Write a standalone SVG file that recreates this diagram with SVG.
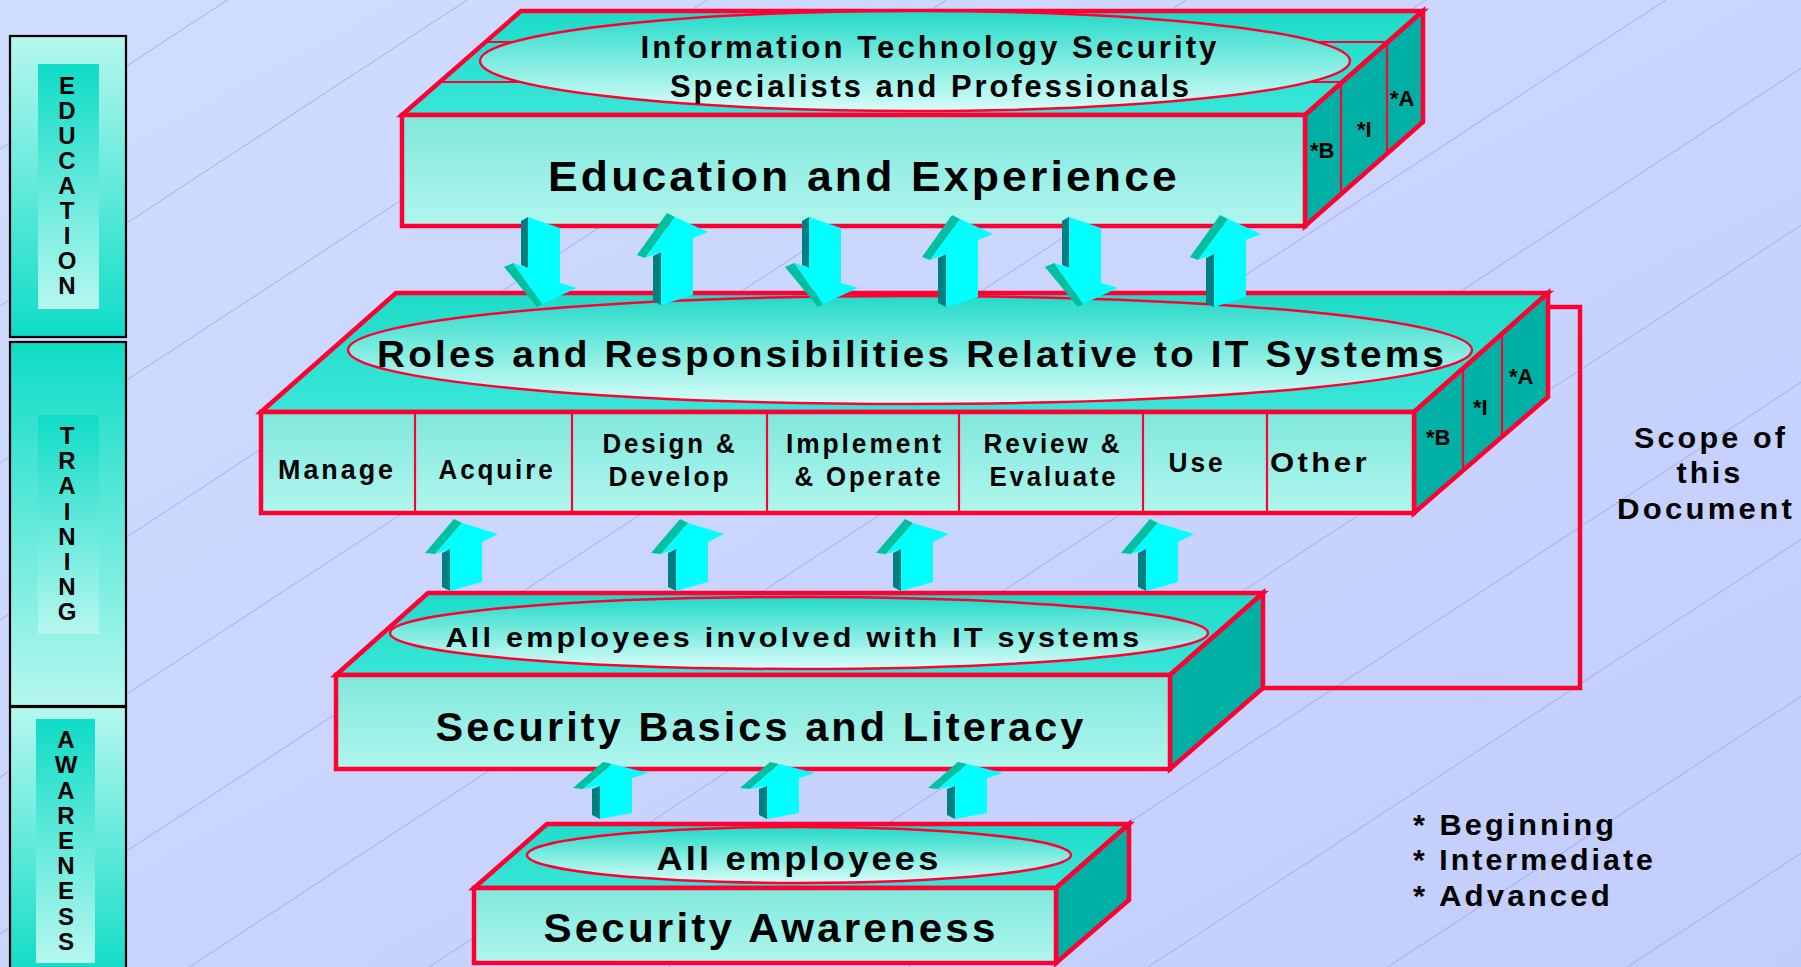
<svg xmlns="http://www.w3.org/2000/svg" xmlns:xlink="http://www.w3.org/1999/xlink" width="1801" height="967" viewBox="0 0 1801 967">
<style>
.t{font-family:"Liberation Sans",Arial,Helvetica,sans-serif;font-weight:bold;fill:#000;}
.s{letter-spacing:3px;}
.bgl{stroke:#9ea8f2;stroke-width:0.9;fill:none;}
.edge{stroke:#ff0033;stroke-width:4.5;stroke-linejoin:miter;stroke-miterlimit:3;}
.thin{stroke:#ff0033;stroke-width:2.2;fill:none;}
.ell{fill:url(#gEll);stroke:#ff0033;stroke-width:2.5;}
.top{fill:url(#gTop);}
.front{fill:url(#gFront);}
.side{fill:#00b0a4;}
.sbox{stroke:#000;stroke-width:2.2;}
.cy{fill:#00ffff;}
.dk{fill:#007f80;}
.gr{fill:#00c0a0;}
</style>
<defs>
<linearGradient id="gBg" x1="0" y1="0" x2="1" y2="1"><stop offset="0" stop-color="#d0ddff"/><stop offset="1" stop-color="#c2cdfc"/></linearGradient>
<linearGradient id="gLT" x1="0" y1="0" x2="0" y2="1"><stop offset="0" stop-color="#b6f7ef"/><stop offset="1" stop-color="#0edcc6"/></linearGradient>
<linearGradient id="gTL" x1="0" y1="0" x2="0" y2="1"><stop offset="0" stop-color="#0edcc6"/><stop offset="1" stop-color="#b6f7ef"/></linearGradient>
<linearGradient id="gTop" x1="0" y1="0" x2="0" y2="1"><stop offset="0" stop-color="#1edcc8"/><stop offset="1" stop-color="#38e6d8"/></linearGradient>
<linearGradient id="gFront" x1="0" y1="0" x2="0" y2="1"><stop offset="0" stop-color="#80e8dc"/><stop offset="1" stop-color="#b0f6ee"/></linearGradient>
<linearGradient id="gEll" x1="0" y1="0" x2="0" y2="1"><stop offset="0" stop-color="#22dac8"/><stop offset="1" stop-color="#d8fdf8"/></linearGradient>
<g id="arDown">
<polygon class="dk" points="0,4 7,0 7,51 0,48"/>
<polygon class="cy" points="7,0 39,11 39,66 56,71 21,87 -8,46 7,51"/>
<polygon class="gr" points="-17,50 -8,46 21,87 16,90"/>
</g>
<g id="arUp1">
<polygon class="gr" points="0,0 8,4 -22,45 -30,42"/>
<polygon class="cy" points="8,4 41,19 26,25 26,82 -6,92 -6,39 -22,45"/>
<polygon class="dk" points="-14,43 -6,39 -6,92 -14,88"/>
</g>
<g id="arUp2">
<polygon class="gr" points="0,0 8,4 -19,35 -29,34"/>
<polygon class="cy" points="8,4 44,15 28,23 28,63 -4,72 -4,30 -19,35"/>
<polygon class="dk" points="-12,34 -4,30 -4,72 -12,68"/>
</g>
<g id="arUp3">
<polygon class="gr" points="0,0 9,2 -20,27 -30,26"/>
<polygon class="cy" points="9,2 45,11 29,16 29,51 -3,57 -3,24 -20,27"/>
<polygon class="dk" points="-11,27 -3,24 -3,57 -11,53"/>
</g>
</defs>

<g id="background">
<rect x="0" y="0" width="1801" height="967" fill="url(#gBg)"/>
<path class="bgl" d="M-100,57.5 L1900,-1252.5 M-100,214.5 L1900,-1095.5 M-100,371.5 L1900,-938.5 M-100,528.5 L1900,-781.5 M-100,685.5 L1900,-624.5 M-100,842.5 L1900,-467.5 M-100,999.5 L1900,-310.5 M-100,1156.5 L1900,-153.5 M-100,1313.5 L1900,3.5 M-100,1470.5 L1900,160.5 M-100,1627.5 L1900,317.5 M-100,1784.5 L1900,474.5 M-100,1941.5 L1900,631.5 M-100,2098.5 L1900,788.5 M-100,2255.5 L1900,945.5"/>
</g>

<g id="side-education">
<rect class="sbox" x="10" y="36" width="116" height="301" fill="url(#gLT)"/>
<rect x="38" y="64" width="61" height="245" fill="url(#gTL)"/>
<text class="t" font-size="24" text-anchor="middle"><tspan x="67" y="94">E</tspan><tspan x="67" y="119">D</tspan><tspan x="67" y="144">U</tspan><tspan x="67" y="169">C</tspan><tspan x="67" y="194">A</tspan><tspan x="67" y="219">T</tspan><tspan x="67" y="244">I</tspan><tspan x="67" y="269">O</tspan><tspan x="67" y="294">N</tspan></text>
</g>
<g id="side-training">
<rect class="sbox" x="10" y="342" width="116" height="364" fill="url(#gTL)"/>
<rect x="38" y="415" width="61" height="219" fill="url(#gTL)"/>
<text class="t" font-size="24" text-anchor="middle"><tspan x="67" y="444">T</tspan><tspan x="67" y="469">R</tspan><tspan x="67" y="494">A</tspan><tspan x="67" y="520">I</tspan><tspan x="67" y="545">N</tspan><tspan x="67" y="570">I</tspan><tspan x="67" y="595">N</tspan><tspan x="67" y="620">G</tspan></text>
</g>
<g id="side-awareness">
<rect class="sbox" x="10" y="707" width="116" height="270" fill="url(#gLT)"/>
<rect x="36" y="719" width="59" height="244" fill="url(#gTL)"/>
<text class="t" font-size="24" text-anchor="middle"><tspan x="66" y="748">A</tspan><tspan x="66" y="773">W</tspan><tspan x="66" y="799">A</tspan><tspan x="66" y="824">R</tspan><tspan x="66" y="849">E</tspan><tspan x="66" y="874">N</tspan><tspan x="66" y="899">E</tspan><tspan x="66" y="925">S</tspan><tspan x="66" y="950">S</tspan></text>
</g>

<g id="block-education">
<polygon class="top edge" points="402,115 521,11 1423,11 1305,115"/>
<line class="thin" x1="440" y1="82" x2="1341" y2="82"/>
<line class="thin" x1="486" y1="42" x2="1387" y2="42"/>
<polygon class="side edge" points="1305,115 1423,11 1423,122 1305,226"/>
<line class="thin" x1="1341" y1="83" x2="1341" y2="194"/>
<line class="thin" x1="1387" y1="43" x2="1387" y2="154"/>
<rect class="front edge" x="402" y="115" width="903" height="111"/>
<ellipse class="ell" cx="915" cy="61" rx="435" ry="50"/>
<text class="t s" font-size="31" text-anchor="middle" x="930" y="58" textLength="579" lengthAdjust="spacingAndGlyphs">Information Technology Security</text>
<text class="t s" font-size="31" text-anchor="middle" x="931" y="97" textLength="522" lengthAdjust="spacingAndGlyphs">Specialists and Professionals</text>
<text class="t s" font-size="42" text-anchor="middle" x="864" y="191" textLength="632" lengthAdjust="spacingAndGlyphs">Education and Experience</text>
<text class="t" font-size="22" x="1310" y="158">*B</text>
<text class="t" font-size="22" x="1357" y="137">*I</text>
<text class="t" font-size="22" x="1390" y="106">*A</text>
</g>

<g id="block-roles">
<polygon class="top edge" points="261,412 396,293 1548,293 1414,412"/>
<polygon class="side edge" points="1414,412 1548,293 1548,397 1414,513"/>
<line class="thin" x1="1463" y1="369" x2="1463" y2="471"/>
<line class="thin" x1="1502" y1="334" x2="1502" y2="437"/>
<rect class="front edge" x="261" y="412" width="1153" height="101"/>
<path class="thin" d="M415,412V513M572,412V513M767,412V513M959,412V513M1143,412V513M1267,412V513"/>
<ellipse class="ell" cx="910" cy="350" rx="562" ry="54"/>
<text class="t s" font-size="37" text-anchor="middle" x="912" y="367" textLength="1070" lengthAdjust="spacingAndGlyphs">Roles and Responsibilities Relative to IT Systems</text>
<text class="t s" font-size="27" text-anchor="middle" x="337" y="479" textLength="118" lengthAdjust="spacingAndGlyphs">Manage</text>
<text class="t s" font-size="27" text-anchor="middle" x="497" y="479" textLength="117" lengthAdjust="spacingAndGlyphs">Acquire</text>
<text class="t s" font-size="27" text-anchor="middle" x="670" y="453" textLength="135" lengthAdjust="spacingAndGlyphs">Design &amp;</text>
<text class="t s" font-size="27" text-anchor="middle" x="670" y="486" textLength="123" lengthAdjust="spacingAndGlyphs">Develop</text>
<text class="t s" font-size="27" text-anchor="middle" x="865" y="453" textLength="158" lengthAdjust="spacingAndGlyphs">Implement</text>
<text class="t s" font-size="27" text-anchor="middle" x="869" y="486" textLength="149" lengthAdjust="spacingAndGlyphs">&amp; Operate</text>
<text class="t s" font-size="27" text-anchor="middle" x="1053" y="453" textLength="139" lengthAdjust="spacingAndGlyphs">Review &amp;</text>
<text class="t s" font-size="27" text-anchor="middle" x="1054" y="486" textLength="129" lengthAdjust="spacingAndGlyphs">Evaluate</text>
<text class="t s" font-size="27" text-anchor="middle" x="1197" y="472" textLength="57" lengthAdjust="spacingAndGlyphs">Use</text>
<text class="t s" font-size="27" text-anchor="middle" x="1320" y="472" textLength="100" lengthAdjust="spacingAndGlyphs">Other</text>
<text class="t" font-size="22" x="1426" y="445">*B</text>
<text class="t" font-size="22" x="1473" y="415">*I</text>
<text class="t" font-size="22" x="1509" y="384">*A</text>
</g>

<g id="block-basics">
<polygon class="top edge" points="336,675 428,593 1263,593 1170,675"/>
<polygon class="side edge" points="1170,675 1263,593 1263,688 1170,769"/>
<rect class="front edge" x="336" y="675" width="834" height="94"/>
<ellipse class="ell" cx="799" cy="633" rx="409" ry="36"/>
<text class="t s" font-size="28" text-anchor="middle" x="794" y="647" textLength="697" lengthAdjust="spacingAndGlyphs">All employees involved with IT systems</text>
<text class="t s" font-size="40" text-anchor="middle" x="761" y="741" textLength="651" lengthAdjust="spacingAndGlyphs">Security Basics and Literacy</text>
</g>

<g id="block-awareness">
<polygon class="top edge" points="474,888 547,824 1129,824 1056,888"/>
<polygon class="side edge" points="1056,888 1129,824 1129,900 1056,963"/>
<rect class="front edge" x="474" y="888" width="582" height="75"/>
<ellipse class="ell" cx="799" cy="855" rx="272" ry="28"/>
<text class="t s" font-size="34" text-anchor="middle" x="799" y="870" textLength="285" lengthAdjust="spacingAndGlyphs">All employees</text>
<text class="t s" font-size="40" text-anchor="middle" x="771" y="942" textLength="455" lengthAdjust="spacingAndGlyphs">Security Awareness</text>
</g>

<g id="connectors">
<use xlink:href="#arDown" x="521" y="217"/>
<use xlink:href="#arUp1" x="667" y="213"/>
<use xlink:href="#arDown" x="802" y="217"/>
<use xlink:href="#arUp1" x="952" y="215"/>
<use xlink:href="#arDown" x="1062" y="217"/>
<use xlink:href="#arUp1" x="1220" y="215"/>
<use xlink:href="#arUp2" x="454" y="519"/>
<use xlink:href="#arUp2" x="680" y="519"/>
<use xlink:href="#arUp2" x="905" y="519"/>
<use xlink:href="#arUp2" x="1150" y="519"/>
<use xlink:href="#arUp3" x="603" y="762"/>
<use xlink:href="#arUp3" x="770" y="762"/>
<use xlink:href="#arUp3" x="958" y="762"/>
<polyline points="1548,307 1580,307 1580,688 1263,688" fill="none" stroke="#ff0033" stroke-width="4.5" stroke-linecap="square"/>
</g>

<g id="scope-label">
<text class="t s" font-size="29" text-anchor="middle" x="1711" y="448" textLength="154" lengthAdjust="spacingAndGlyphs">Scope of</text>
<text class="t s" font-size="29" text-anchor="middle" x="1710" y="483" textLength="67" lengthAdjust="spacingAndGlyphs">this</text>
<text class="t s" font-size="29" text-anchor="middle" x="1706" y="519" textLength="178" lengthAdjust="spacingAndGlyphs">Document</text>
</g>

<g id="legend">
<text class="t s" font-size="30" x="1413" y="835" textLength="204" lengthAdjust="spacingAndGlyphs">* Beginning</text>
<text class="t s" font-size="30" x="1413" y="870" textLength="243" lengthAdjust="spacingAndGlyphs">* Intermediate</text>
<text class="t s" font-size="30" x="1413" y="906" textLength="200" lengthAdjust="spacingAndGlyphs">* Advanced</text>
</g>
</svg>
